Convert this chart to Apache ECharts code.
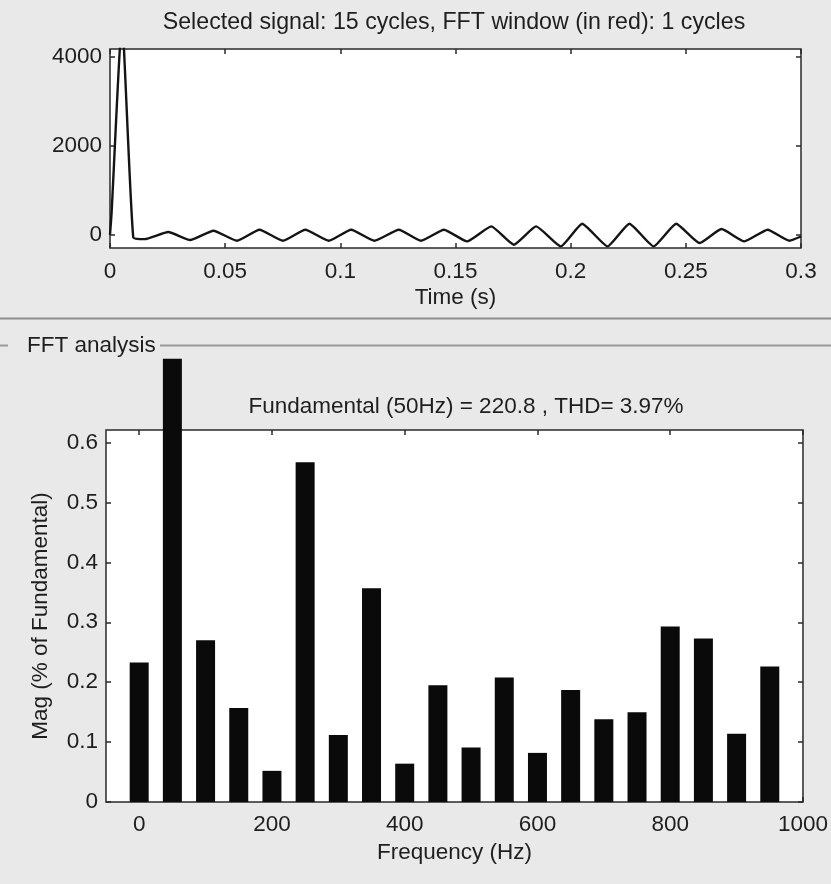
<!DOCTYPE html>
<html>
<head>
<meta charset="utf-8">
<script src="https://cdn.jsdelivr.net/npm/echarts@6/dist/echarts.min.js"></script>
<style>
  html, body { margin: 0; padding: 0; background: #e9e9e9; }
  #chart { width: 831px; height: 884px; }
</style>
</head>
<body>
<div id="chart"></div>
<script>
// ---- Data ----
const timeTicks = [0, 0.05, 0.1, 0.15, 0.2, 0.25, 0.3];
const signalTicks = [0, 2000, 4000];
const timeS = [0, 0.0007, 0.0052, 0.0101, 0.015, 0.0253, 0.0348, 0.0449, 0.0551, 0.0649, 0.0751,
  0.0848, 0.095, 0.1047, 0.1148, 0.1254, 0.135, 0.145, 0.155, 0.1655, 0.1753, 0.185, 0.1957,
  0.205, 0.216, 0.2255, 0.236, 0.2458, 0.256, 0.2655, 0.2754, 0.2855, 0.295, 0.3];
const signalV = [0, 500, 4800, -60, -100, 60, -120, 90, -134, 112, -134,
  112, -134, 112, -134, 112, -134, 112, -150, 186, -224, 186, -262,
  247, -262, 247, -262, 247, -186, 128, -150, 112, -134, -40];

const freqTicks = [0, 200, 400, 600, 800, 1000];
const magTicks = [0, 0.1, 0.2, 0.3, 0.4, 0.5, 0.6];
const freqHz = [0, 50, 100, 150, 200, 250, 300, 350, 400, 450, 500, 550, 600, 650, 700, 750, 800, 850, 900, 950];
const magPct = [0.233, 0.74, 0.27, 0.157, 0.052, 0.567, 0.112, 0.357, 0.064, 0.195, 0.091, 0.208, 0.082,
  0.187, 0.138, 0.150, 0.293, 0.273, 0.114, 0.226];

const titleTop = 'Selected signal: 15 cycles, FFT window (in red): 1 cycles';
const titleFFT = 'Fundamental (50Hz) = 220.8 , THD= 3.97%';
const panelLabel = 'FFT analysis';

// ---- Chart ----
const FONT = "'Liberation Sans', Arial, sans-serif";
const TXT = '#1e1e1e';
const chart = echarts.init(document.getElementById('chart'), null, { renderer: 'canvas' });

function tick(vals) {
  return { show: true, inside: true, length: 5, customValues: vals, lineStyle: { color: '#2a2a2a', width: 1.5 } };
}
function axis(extra) {
  return Object.assign({
    type: 'value',
    splitLine: { show: false },
    axisLine: { show: false, onZero: false },
    axisLabel: { show: false }
  }, extra);
}
const lbl = (vals, margin) => ({ show: true, customValues: vals, margin: margin, color: TXT, fontSize: 22.5,
  fontFamily: FONT, formatter: v => String(v) });
const nameStyle = { color: TXT, fontSize: 22.5, fontFamily: FONT };

const option = {
  backgroundColor: '#e9e9e9',
  animation: false,
  grid: [
    { left: 110, top: 49, width: 691, height: 199, show: true, backgroundColor: '#ffffff', borderColor: '#2a2a2a', borderWidth: 1.5 },
    { left: 106, top: 430, width: 697, height: 372, show: true, backgroundColor: '#ffffff', borderColor: '#2a2a2a', borderWidth: 1.5 }
  ],
  xAxis: [
    axis({ gridIndex: 0, position: 'bottom', min: 0, max: 0.3, axisTick: tick(timeTicks),
      axisLabel: lbl(timeTicks, 12),
      name: 'Time (s)', nameLocation: 'middle', nameGap: 38, nameTextStyle: nameStyle }),
    axis({ gridIndex: 0, position: 'top', min: 0, max: 0.3, axisTick: tick(timeTicks) }),
    axis({ gridIndex: 1, position: 'bottom', min: -50, max: 1000, axisTick: tick(freqTicks),
      axisLabel: lbl(freqTicks, 11),
      name: 'Frequency (Hz)', nameLocation: 'middle', nameGap: 39, nameTextStyle: nameStyle }),
    axis({ gridIndex: 1, position: 'top', min: -50, max: 1000, axisTick: tick(freqTicks) })
  ],
  yAxis: [
    axis({ gridIndex: 0, position: 'left', min: -298, max: 4166, axisTick: tick(signalTicks),
      axisLabel: lbl(signalTicks, 8) }),
    axis({ gridIndex: 0, position: 'right', min: -298, max: 4166, axisTick: tick(signalTicks) }),
    axis({ gridIndex: 1, position: 'left', min: 0, max: 0.621, axisTick: tick(magTicks),
      axisLabel: lbl(magTicks, 8),
      name: 'Mag (% of Fundamental)', nameLocation: 'middle', nameGap: 54, nameRotate: 90, nameTextStyle: nameStyle }),
    axis({ gridIndex: 1, position: 'right', min: 0, max: 0.621, axisTick: tick(magTicks) })
  ],
  series: [
    {
      type: 'line', xAxisIndex: 0, yAxisIndex: 0,
      data: timeS.map((t, i) => [t, signalV[i]]),
      showSymbol: false, symbol: 'none', smooth: 0.15, clip: true,
      lineStyle: { color: '#141414', width: 2.4 }
    },
    {
      type: 'bar', xAxisIndex: 2, yAxisIndex: 2,
      data: freqHz.map((f, i) => [f, magPct[i]]),
      barWidth: 19, clip: false,
      itemStyle: { color: '#0a0a0a' }
    }
  ],
  graphic: [
    { type: 'text', z: 10, style: { text: titleTop, x: 454, y: 23, textAlign: 'center', textVerticalAlign: 'middle',
      fill: TXT, font: '23.2px ' + FONT } },
    { type: 'line', z: 10, shape: { x1: 0, y1: 318.5, x2: 831, y2: 318.5 }, style: { stroke: '#8e8e8e', lineWidth: 2 } },
    { type: 'line', z: 10, shape: { x1: 0, y1: 345.5, x2: 8, y2: 345.5 }, style: { stroke: '#9a9a9a', lineWidth: 2 } },
    { type: 'line', z: 10, shape: { x1: 160, y1: 345.5, x2: 831, y2: 345.5 }, style: { stroke: '#9a9a9a', lineWidth: 2 } },
    { type: 'text', z: 10, style: { text: panelLabel, x: 27, y: 346, textAlign: 'left', textVerticalAlign: 'middle',
      fill: TXT, font: '22.5px ' + FONT } },
    { type: 'text', z: 10, style: { text: titleFFT, x: 466, y: 407, textAlign: 'center', textVerticalAlign: 'middle',
      fill: TXT, font: '22.5px ' + FONT } }
  ]
};
chart.setOption(option);
</script>
</body>
</html>
